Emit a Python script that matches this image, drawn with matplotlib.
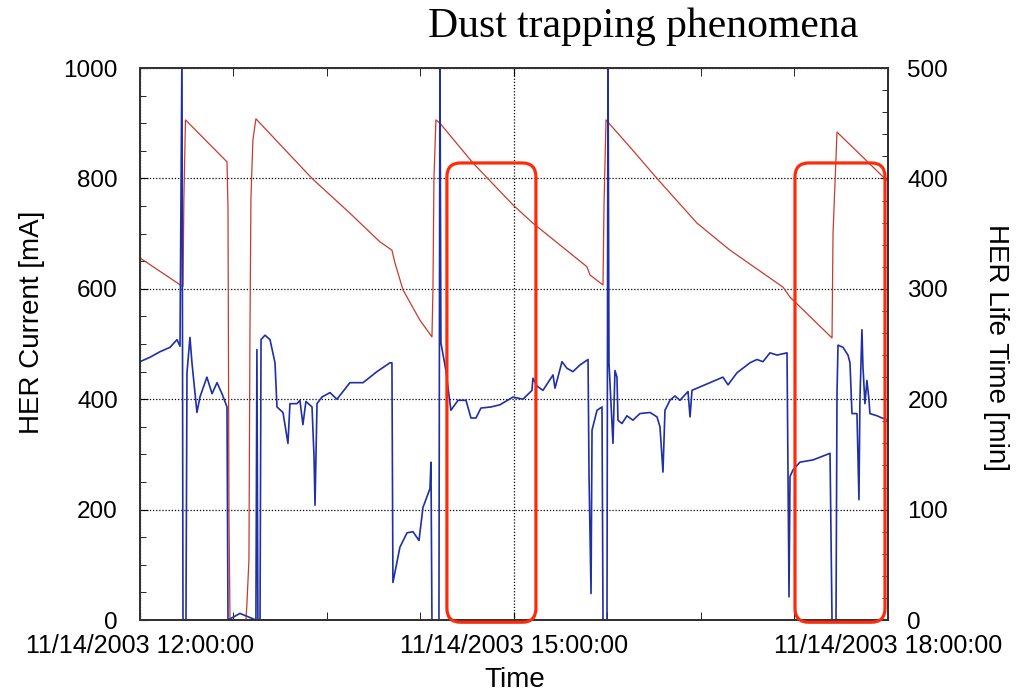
import matplotlib
matplotlib.use("Agg")
import matplotlib.pyplot as plt
from matplotlib.patches import FancyBboxPatch
from matplotlib.ticker import FixedLocator, FixedFormatter, MultipleLocator

# HER current (red, left axis) - hours of the day / mA
red_hours = [12.000, 12.337, 12.345, 12.352, 12.365, 12.698, 12.706, 12.714, 12.722,
             12.850, 12.858, 12.874, 12.882, 12.890, 12.906, 12.930, 13.380, 13.684,
             13.925, 14.021, 14.045, 14.110, 14.246, 14.342, 14.350, 14.358, 14.374,
             14.406, 14.671, 14.992, 15.152, 15.585, 15.610, 15.714, 15.722, 15.738,
             15.930, 16.147, 16.468, 16.733, 17.158, 17.214, 17.551, 17.559, 17.591,
             17.960, 18.000]
red_ma = [656, 605, 605, 760, 906, 830, 746, 187, 0,
          0, 30, 109, 513, 764, 870, 908, 800, 737,
          685, 670, 647, 598, 543, 513, 598, 800, 906,
          900, 828, 752, 719, 640, 625, 607, 750, 906,
          857, 800, 719, 670, 603, 585, 511, 700, 884,
          803, 795]

# HER life time (blue, right axis) - hours of the day / min
blue_hours = [12.000, 12.080, 12.160, 12.241, 12.297, 12.321, 12.337, 12.345, 12.369,
              12.377, 12.401, 12.417, 12.457, 12.481, 12.537, 12.578, 12.618, 12.658,
              12.698, 12.706, 12.802, 12.930, 12.938, 12.946, 12.963, 12.971, 13.003,
              13.043, 13.083, 13.099, 13.147, 13.187, 13.203, 13.259, 13.283, 13.307,
              13.331, 13.380, 13.396, 13.404, 13.420, 13.460, 13.524, 13.580, 13.684,
              13.789, 13.901, 14.005, 14.021, 14.025, 14.029, 14.085, 14.142, 14.190,
              14.238, 14.270, 14.326, 14.334, 14.342, 14.398, 14.406, 14.414, 14.454,
              14.494, 14.551, 14.615, 14.655, 14.695, 14.735, 14.816, 14.888, 14.992,
              15.072, 15.144, 15.152, 15.184, 15.232, 15.313, 15.329, 15.385, 15.425,
              15.473, 15.529, 15.594, 15.602, 15.618, 15.626, 15.666, 15.706, 15.714,
              15.746, 15.754, 15.762, 15.794, 15.810, 15.826, 15.834, 15.866, 15.906,
              15.954, 16.010, 16.091, 16.147, 16.171, 16.195, 16.211, 16.251, 16.291,
              16.331, 16.396, 16.412, 16.428, 16.468, 16.572, 16.676, 16.717, 16.789,
              16.893, 16.949, 16.997, 17.053, 17.110, 17.190, 17.198, 17.206, 17.214,
              17.238, 17.294, 17.398, 17.535, 17.551, 17.583, 17.591, 17.599, 17.639,
              17.679, 17.695, 17.711, 17.751, 17.759, 17.767, 17.775, 17.791, 17.799,
              17.815, 17.831, 17.847, 17.855, 17.912, 17.952, 18.000]
blue_min = [234, 238, 243, 247, 254, 248, 520, 0, 0,
            224, 256, 233, 188, 202, 220, 205, 215, 205,
            193, 0, 6, 0, 245, 0, 0, 254, 258,
            254, 233, 193, 188, 160, 196, 196, 199, 177,
            198, 193, 148, 104, 196, 202, 206, 200, 215,
            215, 225, 233, 233, 133, 34, 66, 79, 80,
            72, 102, 119, 143, 0, 0, 520, 251, 226,
            190, 199, 199, 183, 183, 192, 193, 195, 202,
            200, 208, 219, 212, 208, 222, 210, 234, 228,
            225, 231, 236, 130, 24, 172, 190, 193, 0,
            0, 520, 233, 160, 226, 220, 181, 178, 185,
            181, 187, 188, 184, 175, 134, 190, 199, 203,
            199, 207, 184, 208, 210, 215, 220, 213, 224,
            233, 236, 234, 242, 240, 242, 133, 21, 130,
            136, 143, 145, 151, 0, 0, 205, 249, 247,
            240, 233, 187, 187, 147, 109, 200, 263, 230,
            196, 217, 200, 187, 185, 183, 181]

x_tick_hours = [12, 15, 18]
x_tick_labels = ["11/14/2003 12:00:00", "11/14/2003 15:00:00", "11/14/2003 18:00:00"]

# highlighted windows (hours) and their vertical extent (mA)
highlight_windows = [(14.462, 15.176), (17.254, 17.976)]
highlight_range = (-4, 828)

plt.rcParams['font.family'] = ['Liberation Sans', 'DejaVu Sans']

fig = plt.figure(figsize=(10.18, 6.92), dpi=100)
ax = fig.add_axes([0.1375, 0.104, 0.7348, 0.7977])
ax2 = ax.twinx()

ax.plot(red_hours, red_ma, color='#c83a2e', lw=0.9)
ax2.plot(blue_hours, blue_min, color='#1f2fa5', lw=1.2)

ax.set_xlim(12, 18)
ax.set_ylim(0, 1000)
ax2.set_ylim(0, 500)

ax.xaxis.set_major_locator(FixedLocator(x_tick_hours))
ax.xaxis.set_major_formatter(FixedFormatter(x_tick_labels))
ax.xaxis.set_minor_locator(MultipleLocator(0.75))
ax.yaxis.set_major_locator(MultipleLocator(200))
ax.yaxis.set_minor_locator(MultipleLocator(50))
ax2.yaxis.set_major_locator(MultipleLocator(100))
ax2.yaxis.set_minor_locator(MultipleLocator(20))

ax.tick_params(axis='x', which='both', direction='in', top=True, length=6,
               labelsize=18, pad=10)
ax.tick_params(axis='y', which='major', direction='in', length=6, labelsize=17.5, pad=16)
ax.tick_params(axis='y', which='minor', direction='in', length=4)
ax2.tick_params(axis='y', which='major', direction='in', length=6, labelsize=17.5, pad=14)
ax2.tick_params(axis='y', which='minor', direction='in', length=4)

ax.grid(True, which='major', color='black', linestyle=(0, (1, 1.5)), linewidth=0.9)

for a in (ax, ax2):
    for sp in a.spines.values():
        sp.set_color('#333333')
        sp.set_linewidth(1.4)

ax.set_xlabel('Time', fontsize=20)
ax.xaxis.set_label_coords(0.501, -0.109)
ax.xaxis.label.set_va('center')
ax.set_ylabel('HER Current [mA]', fontsize=20)
ax.yaxis.set_label_coords(-0.144, 0.54)
ax.yaxis.label.set_va('center')
ax2.set_ylabel('HER Life Time [min]', fontsize=20, rotation=270)
ax2.yaxis.set_label_coords(1.144, 0.493)
ax2.yaxis.label.set_va('center')

# rounded red frames around the trapping events
for t0, t1 in highlight_windows:
    box = FancyBboxPatch((t0, highlight_range[0]), t1 - t0,
                         highlight_range[1] - highlight_range[0],
                         boxstyle="round,pad=0,rounding_size=0.11",
                         mutation_aspect=230, transform=ax.transData,
                         fill=False, edgecolor='#ff2a0a', linewidth=2.3,
                         clip_on=False, zorder=5)
    ax2.add_patch(box)

fig.text(0.632, 0.9465, 'Dust trapping phenomena', ha='center', va='baseline',
         family='Liberation Serif', fontsize=30)

fig.savefig('out.png', dpi=100)
